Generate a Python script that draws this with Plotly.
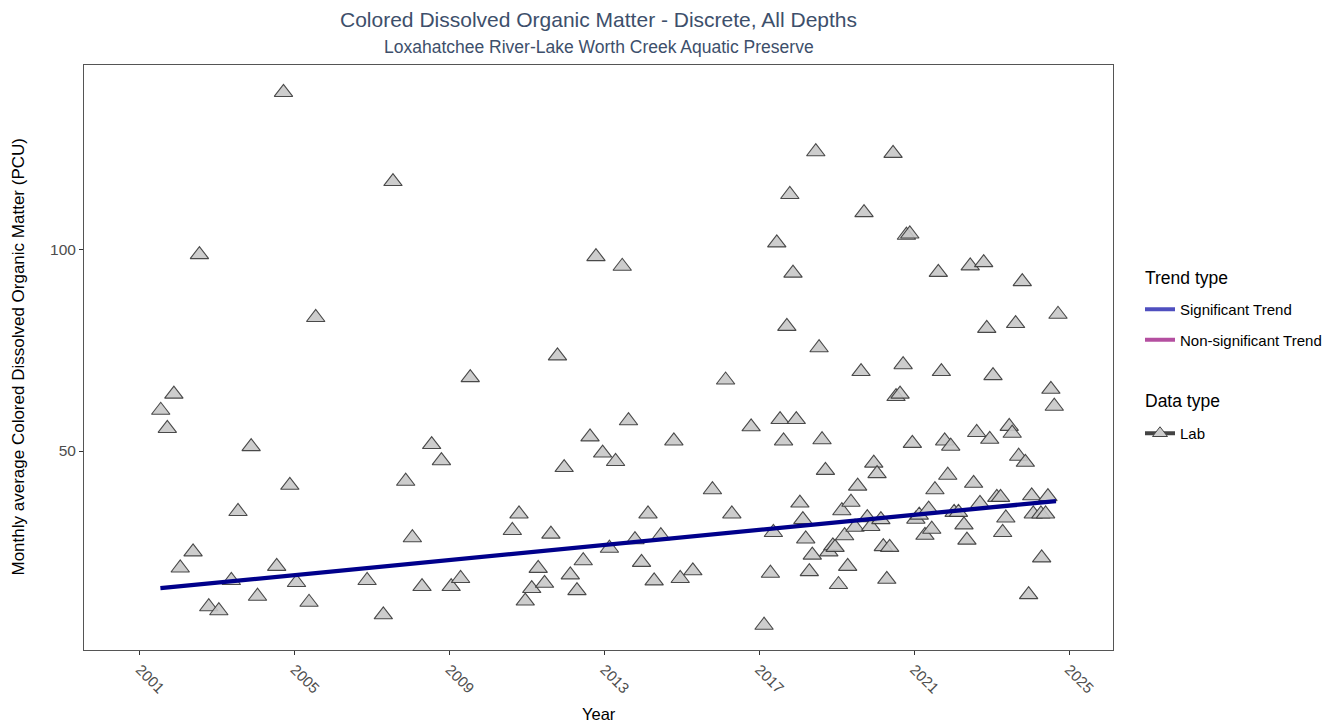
import plotly.graph_objects as go

dates = [
    "2001-07-16", "2001-09-16", "2001-11-17", "2002-01-16", "2002-05-17", "2002-07-16",
    "2002-10-12", "2003-01-15", "2003-05-13", "2003-07-15", "2003-11-16", "2004-01-15",
    "2004-07-14", "2004-09-16", "2004-11-15", "2005-01-17", "2005-05-15", "2005-07-17",
    "2006-11-14", "2007-04-16", "2007-07-16", "2007-11-13", "2008-01-15", "2008-04-15",
    "2008-07-15", "2008-10-15", "2009-01-15", "2009-04-14", "2009-07-14", "2010-08-15",
    "2010-10-17", "2010-12-15", "2011-02-14", "2011-04-16", "2011-06-15", "2011-08-14",
    "2011-10-15", "2011-12-17", "2012-02-13", "2012-04-16", "2012-06-14", "2012-08-17",
    "2012-10-12", "2012-12-14", "2013-02-16", "2013-04-15", "2013-06-17", "2013-08-15",
    "2013-10-15", "2013-12-16", "2014-02-15", "2014-04-14", "2014-06-16", "2014-10-17",
    "2014-12-16", "2015-04-14", "2015-10-16", "2016-02-17", "2016-04-16", "2016-10-15",
    "2017-02-14", "2017-04-15", "2017-05-13", "2017-06-14", "2017-07-15", "2017-08-17",
    "2017-09-17", "2017-10-15", "2017-11-14", "2017-12-15", "2018-01-18", "2018-02-15",
    "2018-03-14", "2018-04-17", "2018-05-15", "2018-06-17", "2018-07-18", "2018-08-15",
    "2018-09-16", "2018-10-18", "2018-11-25", "2018-12-16", "2019-01-17", "2019-02-18",
    "2019-03-16", "2019-04-14", "2019-05-15", "2019-06-22", "2019-07-17", "2019-08-18",
    "2019-09-15", "2019-10-16", "2019-11-18", "2019-12-16", "2020-01-16", "2020-02-21",
    "2020-03-15", "2020-04-17", "2020-05-14", "2020-06-15", "2020-07-13", "2020-08-20",
    "2020-09-18", "2020-10-19", "2020-11-20", "2020-12-14", "2021-01-16", "2021-02-17",
    "2021-04-12", "2021-05-17", "2021-06-15", "2021-07-15", "2021-08-16", "2021-09-14",
    "2021-10-15", "2021-11-13", "2021-12-11", "2022-01-12", "2022-02-22", "2022-04-15",
    "2022-05-13", "2022-06-13", "2022-07-15", "2022-08-13", "2022-09-13", "2022-10-18",
    "2022-11-16", "2022-12-14", "2023-01-14", "2023-02-19", "2023-03-26", "2023-04-15",
    "2023-05-15", "2023-06-16", "2023-07-14", "2023-08-15", "2023-09-13", "2023-10-17",
    "2023-11-15", "2023-12-16", "2024-01-14", "2024-01-29", "2024-04-10", "2024-04-17",
    "2024-05-24", "2024-06-15", "2024-07-13", "2024-08-14", "2024-09-18",
]

cdom_values = [
    60.1, 55.6, 64.1, 21.0, 25.0, 98.7,
    11.4, 10.4, 17.9, 35.0, 51.1, 14.0,
    21.4, 138.9, 41.5, 17.4, 12.5, 83.1,
    17.9, 9.4, 116.8, 42.5, 28.5, 16.4,
    51.6, 47.6, 16.4, 18.4, 68.2, 30.3,
    34.4, 12.8, 15.9, 20.9, 17.2, 29.4,
    73.6, 45.9, 19.3, 15.4, 22.8, 53.5,
    98.2, 49.5, 25.9, 47.4, 95.8, 57.5,
    28.0, 22.4, 34.4, 17.8, 29.0, 52.5,
    18.4, 20.3, 40.4, 67.6, 34.4, 56.0,
    6.8, 19.7, 29.8, 101.6, 57.8, 52.5,
    80.9, 113.6, 94.1, 57.8, 37.1, 33.0,
    28.2, 20.1, 24.2, 124.2, 75.6, 52.8,
    45.2, 25.0, 26.5, 26.1, 16.9, 35.2,
    29.0, 21.4, 37.3, 31.1, 41.3, 69.7,
    109.1, 33.5, 31.3, 47.0, 44.4, 33.0,
    26.3, 18.2, 26.1, 123.8, 63.5, 64.1,
    71.4, 103.5, 103.8, 51.9, 33.1, 34.1,
    29.1, 35.6, 30.6, 40.4, 94.3, 69.7,
    52.5, 44.0, 51.2, 34.8, 34.8, 31.7,
    27.9, 95.9, 42.0, 54.6, 37.0, 96.7,
    80.4, 52.9, 68.7, 38.5, 38.5, 29.8,
    33.4, 56.1, 54.4, 81.6, 48.7, 92.0,
    47.2, 14.4, 38.9, 34.4, 34.4, 23.5,
    34.4, 38.7, 65.3, 61.1, 83.9,
]

trend_dates = ["2001-07-13", "2024-08-30"]
trend_values = [16.0, 37.6]

x_tick_vals = ["2001-01-01", "2005-01-01", "2009-01-01", "2013-01-01",
               "2017-01-01", "2021-01-01", "2025-01-01"]
x_tick_text = ["2001", "2005", "2009", "2013", "2017", "2021", "2025"]
y_tick_vals = [50, 100]

FONT = "Liberation Sans, Arial, sans-serif"
TITLE_COLOR = "#3d4f6b"

fig = go.Figure()

# data points
fig.add_trace(go.Scatter(
    x=dates, y=cdom_values, mode="markers",
    marker=dict(symbol="triangle-up", size=16, color="rgba(200,200,200,0.9)",
                line=dict(color="rgba(55,55,55,0.9)", width=1.1)),
    showlegend=False, hoverinfo="x+y",
))

# trend line
fig.add_trace(go.Scatter(
    x=trend_dates, y=trend_values, mode="lines",
    line=dict(color="#00008B", width=4.3),
    showlegend=False,
))

# legend entries
fig.add_trace(go.Scatter(
    x=[None], y=[None], mode="lines", name="Significant Trend",
    line=dict(color="#4f4fbf", width=4), legend="legend", legendgroup="a",
))
fig.add_trace(go.Scatter(
    x=[None], y=[None], mode="lines", name="Non-significant Trend",
    line=dict(color="#b44fa0", width=4), legend="legend", legendgroup="b",
))
fig.add_trace(go.Scatter(
    x=[None], y=[None], mode="lines+markers", name="Lab",
    line=dict(color="#444444", width=4),
    marker=dict(symbol="triangle-up", size=13, color="#cccccc",
                line=dict(color="#444444", width=1)),
    legend="legend2", legendgroup="c",
))

# page body has an 8px margin, so the figure is drawn at (8, 8)
W, H = 1335, 720
ML, MR, MT, MB = 76, 230, 57, 78
PLOT_TOP, PLOT_BOTTOM = 8 + MT, 8 + H - MB
PLOT_LEFT, PLOT_RIGHT = 8 + ML, 8 + W - MR


def py(y):
    return (PLOT_BOTTOM - y) / (PLOT_BOTTOM - PLOT_TOP)


def px(x):
    return (x - PLOT_LEFT) / (PLOT_RIGHT - PLOT_LEFT)


fig.update_layout(
    width=W, height=H,
    margin=dict(l=ML, r=MR, t=MT, b=MB, autoexpand=False),
    paper_bgcolor="white", plot_bgcolor="white",
    font=dict(family=FONT, color="black"),
    xaxis=dict(
        type="date", range=["1999-07-23", "2026-02-19"], automargin=False,
        tickvals=x_tick_vals, ticktext=x_tick_text, tickangle=45,
        ticks="outside", ticklen=4, tickcolor="#333333", tickwidth=1,
        tickfont=dict(size=15, color="#4d4d4d"),
        showgrid=False, zeroline=False,
        showline=True, linecolor="#555555", linewidth=1, mirror=True,
    ),
    yaxis=dict(
        range=[0.67, 145.7], tickvals=y_tick_vals, automargin=False,
        ticks="outside", ticklen=4, tickcolor="#333333", tickwidth=1,
        tickfont=dict(size=15.5, color="#4d4d4d"),
        showgrid=False, zeroline=False,
        showline=True, linecolor="#555555", linewidth=1, mirror=True,
    ),
    legend=dict(
        x=px(1140), y=py(293), xanchor="left", yanchor="top",
        font=dict(size=15, color="black"), tracegroupgap=8,
        bgcolor="rgba(0,0,0,0)",
    ),
    legend2=dict(
        x=px(1140), y=py(417), xanchor="left", yanchor="top",
        font=dict(size=15, color="black"), tracegroupgap=8,
        bgcolor="rgba(0,0,0,0)",
    ),
    annotations=[
        dict(text="Colored Dissolved Organic Matter - Discrete, All Depths",
             x=0.5, y=py(19), xref="paper", yref="paper", showarrow=False,
             xanchor="center", yanchor="middle",
             font=dict(size=21, color=TITLE_COLOR)),
        dict(text="Loxahatchee River-Lake Worth Creek Aquatic Preserve",
             x=0.5, y=py(47), xref="paper", yref="paper", showarrow=False,
             xanchor="center", yanchor="middle",
             font=dict(size=17.5, color=TITLE_COLOR)),
        dict(text="Year", x=px(598.5), y=py(714), xref="paper", yref="paper",
             showarrow=False, xanchor="center", yanchor="middle",
             font=dict(size=16.5, color="black")),
        dict(text="Monthly average Colored Dissolved Organic Matter (PCU)",
             x=px(18), y=py(357.5), xref="paper", yref="paper", textangle=-90,
             showarrow=False, xanchor="center", yanchor="middle",
             font=dict(size=17, color="black")),
        dict(text="Trend type", x=px(1143), y=py(278), xref="paper", yref="paper",
             showarrow=False, xanchor="left", yanchor="middle",
             font=dict(size=17.5, color="black")),
        dict(text="Data type", x=px(1143), y=py(401), xref="paper", yref="paper",
             showarrow=False, xanchor="left", yanchor="middle",
             font=dict(size=17.5, color="black")),
    ],
)

fig.write_html("out.html")
